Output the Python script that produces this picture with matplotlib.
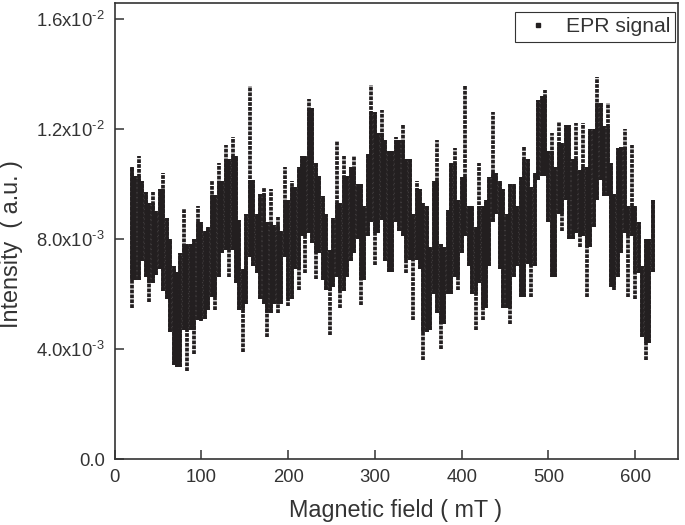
import matplotlib
matplotlib.use("Agg")
import matplotlib.pyplot as plt
from matplotlib.lines import Line2D

plt.rcParams['font.family'] = ['Liberation Sans', 'DejaVu Sans']
plt.rcParams['mathtext.fontset'] = 'custom'
plt.rcParams['mathtext.rm'] = 'Liberation Sans'
plt.rcParams['mathtext.default'] = 'regular'

# column start field (mT): one column every 4 mT from 20 to 620
first_field = 20
field_step = 4
# upper and lower extents of each column of EPR points (units of 1e-3 a.u.)
upper = [10.6,10.3,11.0,10.1,9.7,9.3,9.7,9.0,9.8,10.4,8.75,8.0,7.0,6.8,7.5,9.1,7.8,7.8,8.0,9.2,
         8.6,8.3,8.45,10.1,9.6,10.75,10.1,11.4,10.9,11.7,11.0,8.7,6.9,8.9,13.55,10.15,8.9,9.65,9.85,8.6,
         9.8,8.5,8.8,8.3,10.6,9.4,10.1,9.9,10.6,11.0,11.0,13.1,12.75,10.75,10.3,9.55,8.9,7.6,8.75,11.55,
         9.3,11.0,10.3,10.6,11.0,10.0,10.0,9.2,11.1,13.6,12.6,11.85,12.7,11.6,11.2,11.2,11.7,11.6,12.15,10.9,
         10.9,8.9,10.1,9.8,9.3,9.2,7.7,10.1,11.6,7.8,7.7,9.05,10.75,11.3,9.4,10.25,13.55,9.2,9.2,8.45,
         10.75,9.2,9.4,10.25,12.6,10.4,10.1,9.8,8.9,10.0,10.0,9.2,10.25,11.35,10.9,9.9,10.4,13.05,13.2,13.4,
         11.2,11.85,10.6,12.25,11.5,12.15,12.15,10.9,12.2,10.5,12.2,10.6,12.0,12.0,13.9,12.95,12.1,12.95,10.75,9.65,
         11.3,11.35,12.0,9.2,11.4,9.2,8.6,7.0,8.0,8.0,9.4]
lower = [5.5,6.5,6.5,7.2,6.6,5.7,6.4,6.7,6.9,6.1,5.8,4.6,3.4,3.35,3.35,4.7,3.2,4.7,3.8,5.05,
         5.0,5.1,5.4,5.9,5.4,6.6,7.5,7.6,6.6,7.6,6.4,5.4,3.9,5.65,7.35,7.0,6.75,5.8,5.65,4.45,
         5.3,5.65,5.3,5.65,7.35,5.55,5.8,6.9,6.15,8.1,6.75,8.2,7.85,6.55,7.5,6.5,6.15,4.5,6.25,6.6,
         5.5,6.1,6.6,7.2,7.5,8.0,5.6,6.5,8.1,8.6,7.05,8.2,8.7,7.2,6.8,6.8,8.6,8.3,8.1,6.75,
         7.25,5.05,7.25,6.9,3.6,4.6,4.7,6.0,5.3,4.0,4.9,6.0,6.0,6.6,6.15,7.5,8.1,7.0,6.0,4.7,
         6.4,5.05,5.5,7.0,8.6,8.9,6.9,5.5,5.5,4.9,6.6,7.0,5.9,5.9,7.1,5.9,7.0,10.15,10.3,10.3,
         8.6,6.6,6.6,8.9,8.3,9.4,8.0,8.0,8.2,7.7,8.1,5.9,7.7,8.45,9.4,10.15,9.55,9.55,6.25,6.15,
         6.6,7.5,8.2,5.9,8.1,5.8,6.75,4.45,3.6,4.2,6.8]
x_ticks = [0, 100, 200, 300, 400, 500, 600]
y_ticks = [0.0, 4e-3, 8e-3, 1.2e-2, 1.6e-2]
y_tick_labels = ['0.0', r'4.0x10$^{\text{-3}}$', r'8.0x10$^{\text{-3}}$', r'1.2x10$^{\text{-2}}$', r'1.6x10$^{\text{-2}}$']

n = len(upper)
field = [first_field + field_step * i for i in range(n)]
scaled_upper = [v * 1e-3 for v in upper]
scaled_lower = [v * 1e-3 for v in lower]


def middle(values, i):
    """Middle of a column's extent and its two neighbours' extents."""
    window = sorted(values[max(i - 1, 0):i + 2])
    return window[len(window) // 2]


# where a column overlaps its neighbours the points merge into solid ink;
# only the spikes beyond them stay as separate dots
core_upper = [min(scaled_upper[i], middle(scaled_upper, i)) for i in range(n)]
core_lower = [max(scaled_lower[i], middle(scaled_lower, i)) for i in range(n)]

ink = '#231f20'
W, H = 685, 525
fig = plt.figure(figsize=(W / 100, H / 100), dpi=100)
ax = fig.add_axes([114.5 / W, (H - 459) / H, (678.5 - 114.5) / W, (459 - 3) / H])

ax.vlines(field, scaled_lower, scaled_upper, colors=ink, linewidth=2.7,
          linestyles=[(0, (1.0, 0.3))], capstyle='butt')
core = [(f, lo, hi) for f, lo, hi in zip(field, core_lower, core_upper) if hi > lo]
ax.vlines([c[0] for c in core], [c[1] for c in core], [c[2] for c in core],
          colors=ink, linewidth=2.7)

ax.set_xlim(0, 649.8)
ax.set_ylim(0, 1.658e-2)
ax.set_xticks(x_ticks)
ax.set_yticks(y_ticks)
ax.set_yticklabels(y_tick_labels)
ax.tick_params(axis='both', direction='in', length=6.5, width=1.1, colors='#333333',
               labelsize=13.3, labelcolor='#333333', pad=7)
for s in ax.spines.values():
    s.set_linewidth(1.2)
    s.set_color('#333333')

ax.set_xlabel('Magnetic field ( mT )', fontsize=16.8, color='#333333')
ax.xaxis.set_label_coords((396 - 114.5) / 564, -(511 + 6 - 459) / 456)
ax.xaxis.label.set_verticalalignment('baseline')
ax.set_ylabel('Intensity  ( a.u. )', fontsize=16.8, color='#333333')
ax.yaxis.set_label_coords(-(114.5 - 23) / 564, (459 - 244) / 456)

handle = Line2D([], [], linestyle='none', marker='s', markersize=2.3, color=ink)
leg = ax.legend([handle], ['EPR signal'], loc='upper right',
                bbox_to_anchor=((675.5 - 114.5) / 564, (459 - 12) / 456),
                borderaxespad=0, fontsize=15.2, fancybox=False, framealpha=1,
                edgecolor='#333333', borderpad=0.25, handletextpad=0.45, handlelength=1.7)
leg.get_frame().set_linewidth(0.8)
for t in leg.get_texts():
    t.set_color('#333333')

fig.savefig('out.png', dpi=100)
